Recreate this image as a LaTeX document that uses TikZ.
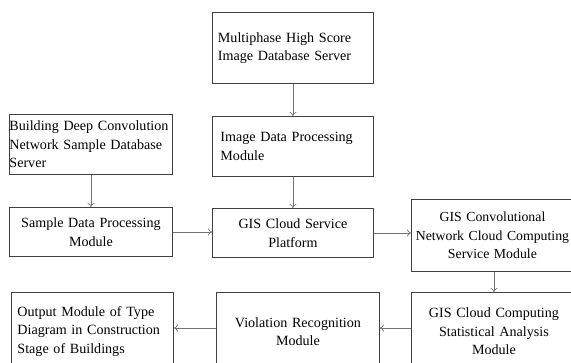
\documentclass[tikz,border=0pt]{standalone}
\usepackage{fontspec}
\setmainfont{Liberation Serif}
\usetikzlibrary{arrows.meta}
\begin{document}
\begin{tikzpicture}[x=1pt,y=-1pt,
  box/.style={draw=black!75, line width=0.9pt, anchor=north west, inner sep=0pt,
    font=\fontsize{14.1}{18.5}\selectfont, align=center},
  conn/.style={draw=black!55, line width=0.7pt, -{To[length=4pt,width=7pt]}}]
\useasboundingbox[fill=white] (0,0) rectangle (571,362);
\clip (0,0) rectangle (571,362);
\node[box, minimum width=161pt, minimum height=71pt, text width=150pt, align=left] (mhs) at (212,12)
  {Multiphase High Score\\Image Database Server};
\node[box, minimum width=161pt, minimum height=60pt, text width=145pt, align=left] (idp) at (212,116)
  {Image Data Processing\\Module};
\node[box, minimum width=163pt, minimum height=60pt, text width=163pt, align=left] (bdc) at (9,114)
  {Building Deep Convolution\\Network Sample Database\\Server};
\node[box, minimum width=163pt, minimum height=49pt, text width=163pt] (sdp) at (9,207)
  {\raisebox{-3pt}{\parbox{163pt}{\centering Sample Data Processing\\Module}}};
\node[box, minimum width=161pt, minimum height=49pt, text width=161pt] (gcs) at (212,208)
  {GIS Cloud Service\\Platform};
\node[box, minimum width=165pt, minimum height=72pt, text width=160pt,
  font=\fontsize{13.8}{18.5}\selectfont] (gcn) at (411,199)
  {\hspace*{-3pt}\parbox{160pt}{\centering GIS Convolutional\\Network Cloud Computing\\Service Module}};
\node[box, minimum width=165pt, minimum height=78pt, text width=165pt] (gsa) at (411,292)
  {GIS Cloud Computing\\Statistical Analysis\\Module};
\node[box, minimum width=163pt, minimum height=78pt, text width=163pt] (vrm) at (216,292)
  {\raisebox{6pt}{\parbox{163pt}{\centering Violation Recognition\\Module}}};
\node[box, minimum width=162pt, minimum height=78pt, text width=150pt, align=left] (out) at (11,292)
  {Output Module of Type\\Diagram in Construction\\Stage of Buildings};
\coordinate (ya) at (0,328);
\draw[conn] (mhs.south) -- (idp.north);
\draw[conn] (bdc.south) -- (sdp.north);
\draw[conn] (idp.south) -- (gcs.north);
\draw[conn] (sdp.east) -- (sdp.east -| gcs.west);
\draw[conn] (gcs.east) -- (gcs.east -| gcn.west);
\draw[conn] (gcn.south) -- (gsa.north);
\draw[conn] (gsa.west |- ya) -- (vrm.east |- ya);
\draw[conn] (vrm.west |- ya) -- (out.east |- ya);
\end{tikzpicture}
\end{document}
